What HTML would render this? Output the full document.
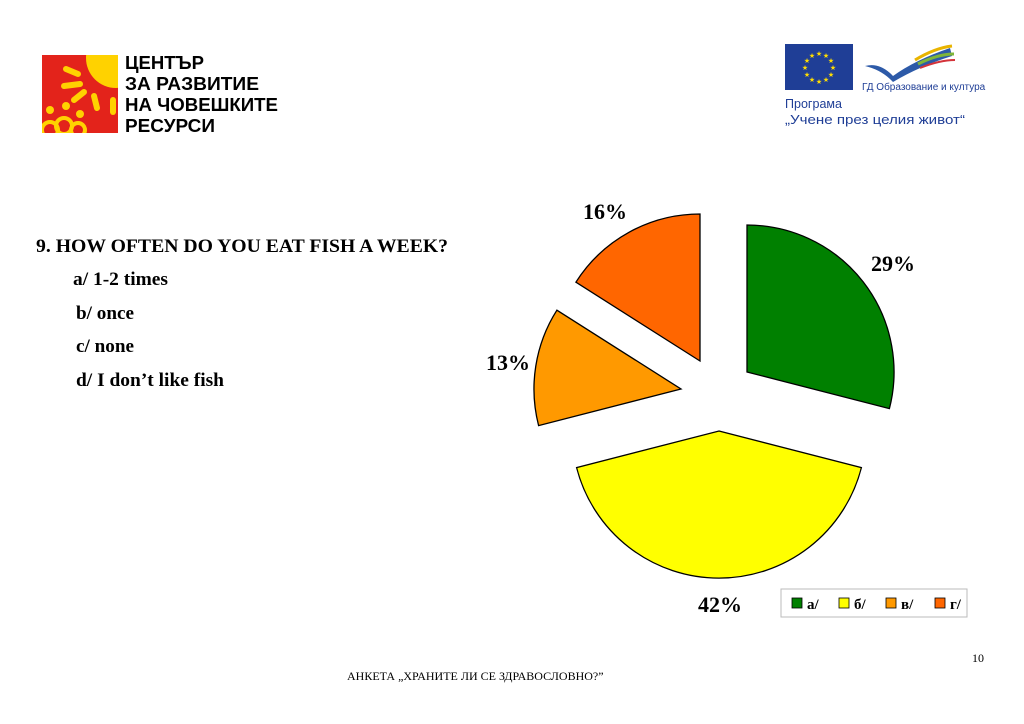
<!DOCTYPE html>
<html><head><meta charset="utf-8"><style>
body{margin:0;background:#fff;width:1024px;height:724px;overflow:hidden}
svg{display:block}
</style></head><body>
<svg width="1024" height="724" xmlns="http://www.w3.org/2000/svg">
<defs><clipPath id="sq"><rect x="42" y="55" width="76" height="78"/></clipPath></defs>
<!-- Left logo -->
<rect x="42" y="55" width="76" height="78" fill="#e3231b"/>
<g clip-path="url(#sq)">
<circle cx="116" cy="58" r="30" fill="#ffd200"/>
<g stroke="#ffd200" stroke-width="6" stroke-linecap="round">
<line x1="66" y1="69" x2="78" y2="74"/>
<line x1="64" y1="86" x2="80" y2="84"/>
<line x1="74" y1="100" x2="84" y2="92"/>
<line x1="94" y1="96" x2="97" y2="108"/>
<line x1="113" y1="100" x2="113" y2="112"/>
</g>
<g fill="none" stroke="#ffd200" stroke-width="4">
<circle cx="50" cy="130" r="8"/><circle cx="64" cy="126" r="8"/><circle cx="78" cy="130" r="7"/>
</g>
<circle cx="50" cy="110" r="4" fill="#ffd200"/><circle cx="66" cy="106" r="4" fill="#ffd200"/><circle cx="80" cy="114" r="4" fill="#ffd200"/>
</g>
<g font-family="Liberation Sans, sans-serif" font-weight="bold" font-size="18" fill="#000" lengthAdjust="spacingAndGlyphs">
<text x="125" y="69" textLength="79" lengthAdjust="spacingAndGlyphs">ЦЕНТЪР</text>
<text x="125" y="90" textLength="134" lengthAdjust="spacingAndGlyphs">ЗА РАЗВИТИЕ</text>
<text x="125" y="111" textLength="153" lengthAdjust="spacingAndGlyphs">НА ЧОВЕШКИТЕ</text>
<text x="125" y="132" textLength="90" lengthAdjust="spacingAndGlyphs">РЕСУРСИ</text>
</g>
<!-- EU logo -->
<rect x="785" y="44" width="68" height="46" fill="#1f3e96"/>
<g fill="#ffdd00" font-size="7" font-family="DejaVu Sans, sans-serif" text-anchor="middle">
<text x="819" y="56">★</text><text x="826" y="58">★</text><text x="831" y="63">★</text><text x="833" y="70">★</text><text x="831" y="77">★</text><text x="826" y="82">★</text><text x="819" y="84">★</text><text x="812" y="82">★</text><text x="807" y="77">★</text><text x="805" y="70">★</text><text x="807" y="63">★</text><text x="812" y="58">★</text>
</g>
<path d="M865,66 Q880,62 893,76 Q915,60 950,48 L952,56 Q920,66 893,82 Q882,70 865,66Z" fill="#2d5aa8"/>
<path d="M915,60 Q935,48 952,46" stroke="#e9b400" stroke-width="3" fill="none"/>
<path d="M918,64 Q938,54 954,54" stroke="#7fb539" stroke-width="3" fill="none"/>
<path d="M920,68 Q940,60 955,60" stroke="#d4333a" stroke-width="2" fill="none"/>
<g font-family="Liberation Sans, sans-serif" font-size="10" fill="#1f3e96">
<text x="862" y="90">ГД  Образование и култура</text>
<text x="785" y="108" font-size="13" textLength="57" lengthAdjust="spacingAndGlyphs">Програма</text>
<text x="785" y="124" font-size="13" textLength="180" lengthAdjust="spacingAndGlyphs">„Учене през целия живот“</text>
</g>
<!-- Question -->
<g font-family="Liberation Serif, serif" font-weight="bold" font-size="19" fill="#000">
<text x="36" y="252" textLength="412" lengthAdjust="spacingAndGlyphs">9.  HOW OFTEN DO YOU EAT FISH A WEEK?</text>
<text x="73" y="285" textLength="95" lengthAdjust="spacingAndGlyphs">a/ 1-2 times</text>
<text x="76" y="319" textLength="58" lengthAdjust="spacingAndGlyphs">b/ once</text>
<text x="76" y="352" textLength="58" lengthAdjust="spacingAndGlyphs">c/ none</text>
<text x="76" y="386" textLength="148" lengthAdjust="spacingAndGlyphs">d/ I don’t like fish</text>
</g>
<!-- Pie -->
<g stroke="#000" stroke-width="1.3">
<path d="M747,372 L747,225 A147,147 0 0 1 889.4,408.6 Z" fill="#008000"/>
<path d="M719,431 L861.4,467.6 A147,147 0 0 1 576.6,467.6 Z" fill="#ffff00"/>
<path d="M681,389 L538.6,425.6 A147,147 0 0 1 556.9,310.2 Z" fill="#ff9900"/>
<path d="M700,361 L575.9,282.2 A147,147 0 0 1 700,214 Z" fill="#ff6600"/>
</g>
<g font-family="Liberation Serif, serif" font-weight="bold" font-size="22" fill="#000" text-anchor="middle">
<text x="605" y="219">16%</text>
<text x="893" y="271">29%</text>
<text x="508" y="370">13%</text>
<text x="720" y="612">42%</text>
</g>
<!-- Legend -->
<rect x="781" y="589" width="186" height="28" fill="#fff" stroke="#bbb"/>
<g stroke="#000" stroke-width="0.8">
<rect x="792" y="598" width="10" height="10" fill="#008000"/>
<rect x="839" y="598" width="10" height="10" fill="#ffff00"/>
<rect x="886" y="598" width="10" height="10" fill="#ff9900"/>
<rect x="935" y="598" width="10" height="10" fill="#ff6600"/>
</g>
<g font-family="Liberation Serif, serif" font-weight="bold" font-size="15" fill="#000">
<text x="807" y="609">а/</text><text x="854" y="609">б/</text><text x="901" y="609">в/</text><text x="950" y="609">г/</text>
</g>
<!-- Footer -->
<g font-family="Liberation Serif, serif" font-size="12" fill="#000">
<text x="347" y="680">АНКЕТА „ХРАНИТЕ ЛИ СЕ ЗДРАВОСЛОВНО?”</text>
<text x="972" y="662">10</text>
</g>
</svg>
</body></html>
